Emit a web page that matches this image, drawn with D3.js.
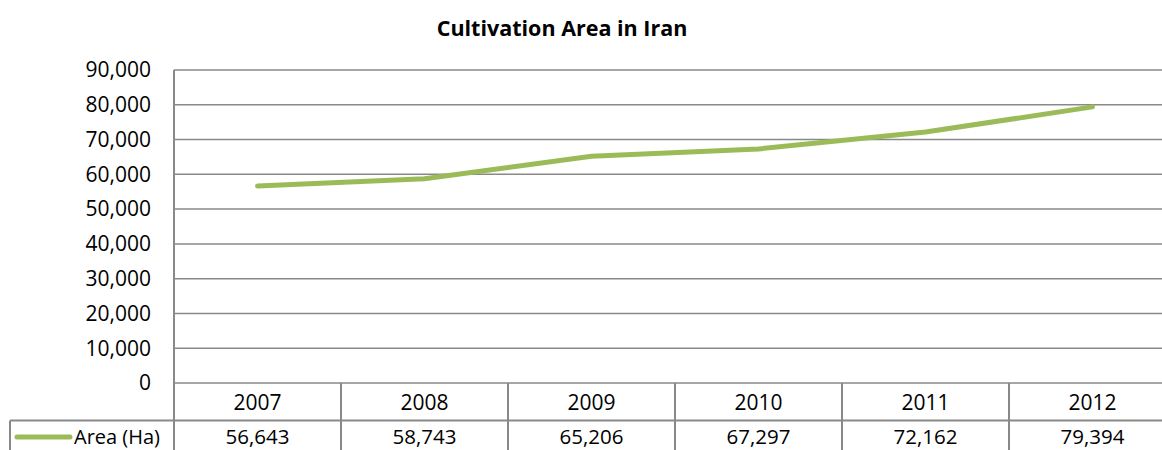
<!DOCTYPE html>
<html><head><meta charset="utf-8">
<script src="https://cdn.jsdelivr.net/npm/d3@7"></script>
<style>body{margin:0;background:#fff;}svg{display:block;}</style>
</head><body>
<svg id="c" width="1162" height="450"></svg>
<script>
const categories = ["2007","2008","2009","2010","2011","2012"];
const seriesName = "Area (Ha)";
const areaValues = [56643, 58743, 65206, 67297, 72162, 79394];
const yTicks = [0,10000,20000,30000,40000,50000,60000,70000,80000,90000];
const title = "Cultivation Area in Iran";

const svg = d3.select("#c");
const font = "'Open Sans', sans-serif";
const gridColor = "#898989";
const lineColor = "#9BBB59";

const x = d3.scaleBand().domain(categories).range([174, 1176]);
const y = d3.scaleLinear().domain([0, 90000]).range([383, 70]);
const fmt = d3.format(",");

svg.append("text").attr("x", 562).attr("y", 36).attr("text-anchor","middle")
  .attr("font-family", font).attr("font-weight","bold").attr("font-size",21.5).text(title);

// gridlines
svg.append("g").selectAll("line").data(yTicks).join("line")
  .attr("x1", 174).attr("x2", 1176).attr("y1", d=>y(d)).attr("y2", d=>y(d))
  .attr("stroke", gridColor).attr("stroke-width", 1.5);
// y axis labels
svg.append("g").selectAll("text").data(yTicks).join("text")
  .attr("x", 151).attr("y", d=>y(d)).attr("dy","0.35em").attr("text-anchor","end")
  .attr("font-family", font).attr("font-size", 21).attr("fill","#000").text(d=>fmt(d));
// y axis line
svg.append("line").attr("x1",174).attr("x2",174).attr("y1",70).attr("y2",460)
  .attr("stroke", gridColor).attr("stroke-width",2);

// table
const rowTop = 383, rowMid = 420.5, rowBot = 460;
const tg = svg.append("g");
tg.selectAll("line.v").data(categories).join("line").attr("class","v")
  .attr("x1", d=>x(d)+x.bandwidth()).attr("x2", d=>x(d)+x.bandwidth())
  .attr("y1", rowTop).attr("y2", rowBot).attr("stroke", gridColor).attr("stroke-width",2);
tg.append("line").attr("x1",10).attr("x2",1176).attr("y1",rowMid).attr("y2",rowMid)
  .attr("stroke", gridColor).attr("stroke-width",2);
tg.append("line").attr("x1",10).attr("x2",10).attr("y1",rowMid).attr("y2",rowBot)
  .attr("stroke", gridColor).attr("stroke-width",2);
tg.selectAll("text.h").data(categories).join("text").attr("class","h")
  .attr("x", d=>x(d)+x.bandwidth()/2).attr("y", 403).attr("dy","0.35em")
  .attr("text-anchor","middle").attr("font-family",font).attr("font-size",21).text(d=>d);
tg.selectAll("text.v").data(areaValues).join("text").attr("class","v")
  .attr("x", (d,i)=>x(categories[i])+x.bandwidth()/2).attr("y", 437).attr("dy","0.35em")
  .attr("text-anchor","middle").attr("font-family",font).attr("font-size",20.5).text(d=>fmt(d));
tg.append("line").attr("x1",17).attr("x2",70).attr("y1",437).attr("y2",437)
  .attr("stroke", lineColor).attr("stroke-width",5).attr("stroke-linecap","round");
tg.append("text").attr("x",74).attr("y",437).attr("dy","0.35em")
  .attr("font-family",font).attr("font-size",20).text(seriesName);

// line
const line = d3.line().x((d,i)=>x(categories[i])+x.bandwidth()/2).y(d=>y(d));
svg.append("path").datum(areaValues).attr("d", line).attr("fill","none")
  .attr("stroke", lineColor).attr("stroke-width",5).attr("stroke-linecap","round").attr("stroke-linejoin","round");
</script>
</body></html>
